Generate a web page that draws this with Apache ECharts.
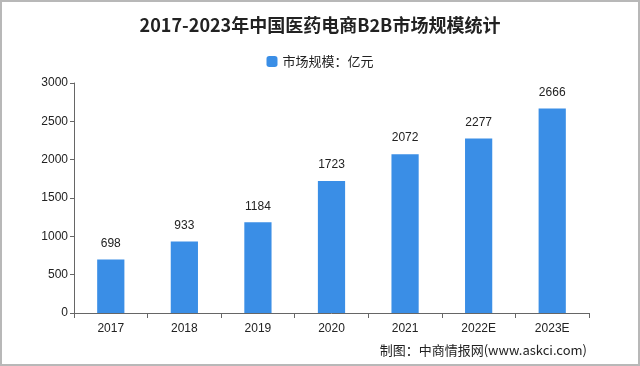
<!DOCTYPE html>
<html><head><meta charset="utf-8">
<script src="https://cdn.jsdelivr.net/npm/echarts@6/dist/echarts.min.js"></script>
<style>html,body{margin:0;padding:0;background:#fff}#c{width:640px;height:366px;box-sizing:border-box;border:2px solid #b8b8b8}</style>
</head><body><div id="c"></div>
<script>
var categories = ['2017','2018','2019','2020','2021','2022E','2023E'];
var values = [698, 933, 1184, 1723, 2072, 2277, 2666];
var yTicks = [0, 500, 1000, 1500, 2000, 2500, 3000];
var seriesName = '市场规模：亿元';
var chart = echarts.init(document.getElementById('c'));
chart.setOption({
  animation: false,
  title: [{
    text: '2017-2023年中国医药电商B2B市场规模统计',
    left: 'center', top: 9,
    textStyle: {fontFamily: '"Noto Sans CJK SC"', fontSize: 18, fontWeight: 'bold', color: '#222'}
  }, {
    text: '制图：中商情报网(www.askci.com)',
    right: 46, bottom: 2,
    textStyle: {fontFamily: '"Noto Sans CJK SC"', fontSize: 13, fontWeight: 'normal', color: '#222'}
  }],
  legend: {
    top: 48, left: 'center', itemWidth: 11, itemHeight: 11, itemGap: 4,
    textStyle: {fontFamily: '"Noto Sans CJK SC"', fontSize: 13, color: '#222'},
    data: [seriesName]
  },
  grid: {left: 72, right: 49, top: 81, bottom: 51, containLabel: false},
  xAxis: {
    type: 'category', data: categories,
    axisLine: {lineStyle: {color: '#666'}},
    axisTick: {show: true, alignWithLabel: false, lineStyle: {color: '#666'}},
    axisLabel: {color: '#222', fontSize: 12, fontFamily: 'Liberation Sans', margin: 10}
  },
  yAxis: {
    type: 'value', min: 0, max: 3000, interval: 500,
    splitLine: {show: false},
    axisLine: {show: true, lineStyle: {color: '#666'}},
    axisTick: {show: true, length: 4, lineStyle: {color: '#666'}},
    axisLabel: {color: '#222', fontSize: 12, fontFamily: 'Liberation Sans', margin: 6,
      formatter: function(v){ return yTicks.indexOf(v) >= 0 ? String(v) : ''; }}
  },
  series: [{
    name: seriesName, type: 'bar', data: values, barWidth: '37%',
    itemStyle: {color: '#3a8ee6'},
    label: {show: true, position: 'top', distance: 10, color: '#222', fontSize: 12, fontFamily: 'Liberation Sans'}
  }]
});
</script></body></html>
